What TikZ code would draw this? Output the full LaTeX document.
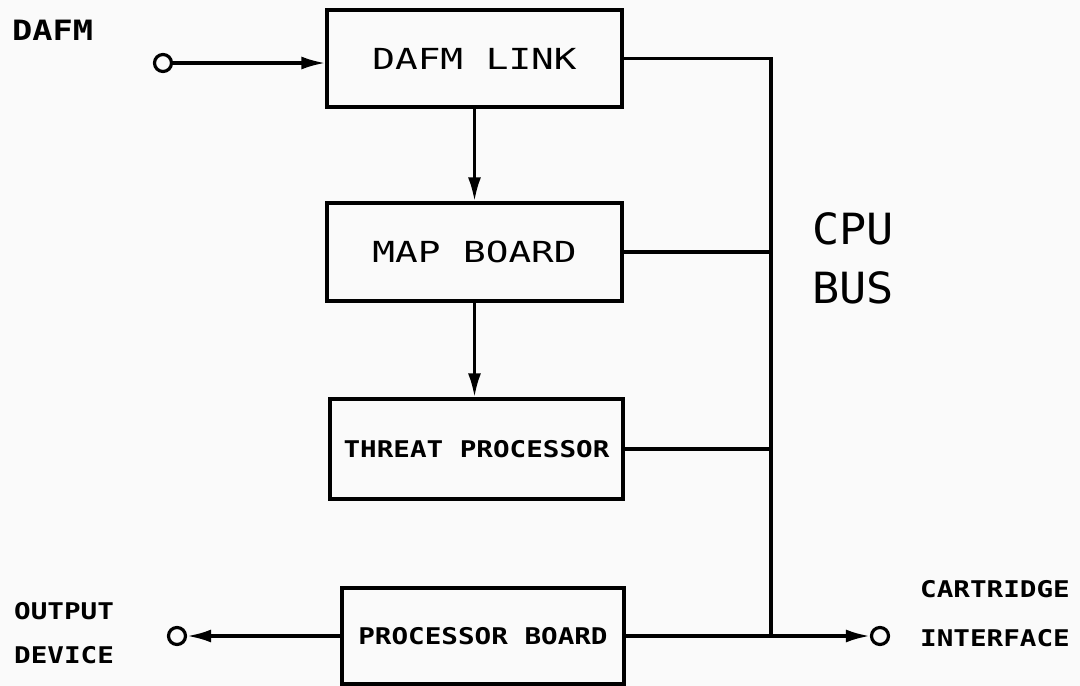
\documentclass[tikz,border=0pt]{standalone}
\usepackage{fontspec}
\usetikzlibrary{arrows.meta}
\newfontfamily\thinwide[FakeStretch=1.3]{DejaVu Sans Mono}
\newfontfamily\thinnorm[FakeStretch=1.05]{DejaVu Sans Mono}
\newfontfamily\boldwide[FakeStretch=1.2]{DejaVu Sans Mono}
\begin{document}
\begin{tikzpicture}[x=1pt,y=-1pt,
  box/.style={draw, line width=3.2pt, inner sep=0pt},
  bigtext/.style={font={\thinwide\fontsize{29}{30}\selectfont}},
  smalltext/.style={font={\boldwide\bfseries\fontsize{23}{24}\selectfont}},
  port/.style={circle, draw, line width=3.2pt, minimum size=17pt, inner sep=0pt},
  conn/.style={line width=3.2pt},
  arr/.style={conn, -{Latex[length=24pt,width=13pt]}},
  lbl/.style={anchor=west, inner sep=0pt, smalltext},
  buslbl/.style={anchor=west, inner sep=0pt, font={\thinnorm\fontsize{43}{44}\selectfont}}]
\fill[gray!4] (0,0) rectangle (1080,686);
\useasboundingbox (0,0) rectangle (1080,686);
% boxes
\node[box, bigtext, minimum width=295pt, minimum height=97pt] (link) at (474.5,58.5) {DAFM LINK};
\node[box, bigtext, minimum width=295pt, minimum height=98pt] (map) at (474.5,252) {MAP BOARD};
\node[box, smalltext, minimum width=293pt, minimum height=100pt] (threat) at (476.5,449) {THREAT PROCESSOR};
\node[box, smalltext, minimum width=282pt, minimum height=96pt] (proc) at (483,636) {PROCESSOR BOARD};
% ports
\node[port] (in) at (163,63) {};
\node[port] (out) at (177,636) {};
\node[port] (cart) at (880,636) {};
% bus
\coordinate (bt) at (771,58.5);
\coordinate (bb) at (771,636);
% labels
\node[lbl, font={\boldwide\bfseries\fontsize{28}{29}\selectfont}] (dafm) at (12,30) {DAFM};
\node[lbl] (output) at (14,611) {OUTPUT};
\node[lbl] (device) at (14,655) {DEVICE};
\node[lbl] (cartl) at (920,589) {CARTRIDGE};
\node[lbl] (intf) at (920,638) {INTERFACE};
\node[buslbl] (cpu) at (812,229) {CPU};
\node[buslbl] (bus) at (812,288) {BUS};
% connectors
\draw[arr] (in) -- (in -| link.west);
\draw[arr] (link) -- (map);
\draw[arr] (map.south) -- (map.south |- threat.north);
\draw[conn] (link.east) -- (bt) -- (bb);
\draw[conn] (map.east) -- (map.east -| bt);
\draw[conn] (threat.east) -- (threat.east -| bt);
\draw[arr] (proc.west) -- (out);
\draw[arr] (proc.east) -- (cart);
\end{tikzpicture}
\end{document}
